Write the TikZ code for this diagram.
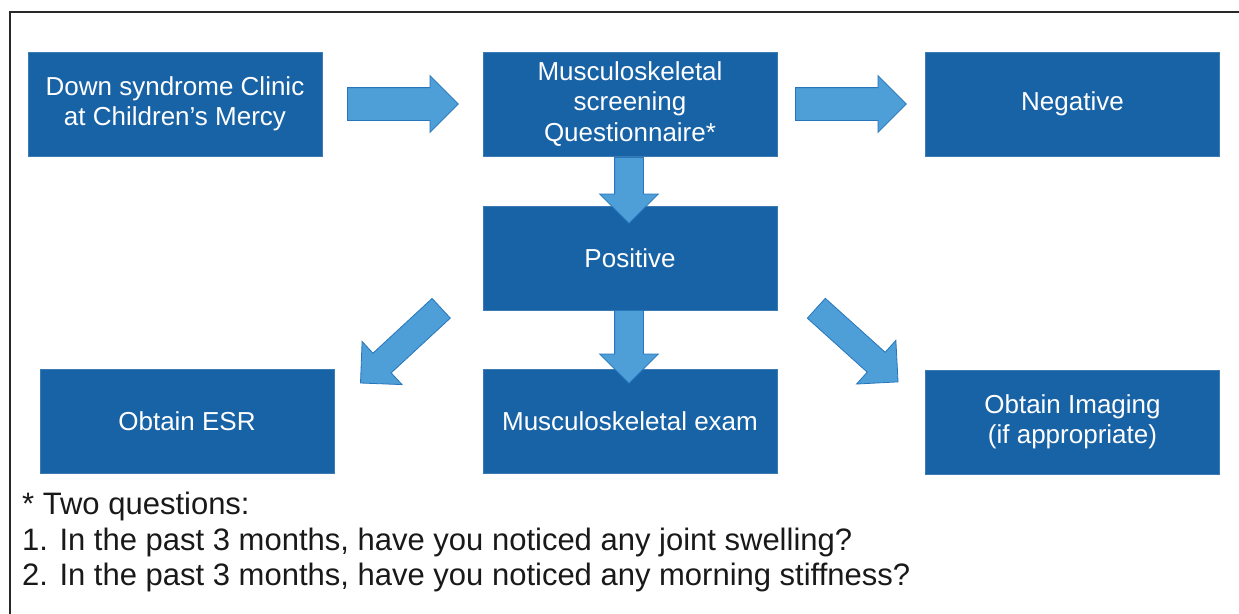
\documentclass[tikz,border=0pt]{standalone}
\usepackage{fontspec}
\setmainfont{Liberation Sans}
\usetikzlibrary{shapes.arrows}
\definecolor{boxblue}{RGB}{24,98,166}
\definecolor{arrowfill}{RGB}{78,158,216}
\definecolor{arrowline}{RGB}{38,118,188}
\definecolor{framegray}{RGB}{40,40,40}
\begin{document}
\begin{tikzpicture}[x=1pt,y=-1pt,
  box/.style={rectangle, fill=boxblue, draw=boxblue!85!white, line width=0.6pt,
    minimum width=294pt, minimum height=104pt, inner sep=0pt, text=white,
    align=center, font=\fontsize{26}{30.5}\selectfont},
  fatarrow/.style={single arrow, fill=arrowfill, draw=arrowline, line width=0.8pt,
    inner xsep=0pt, single arrow tip angle=90, anchor=tail},
  note/.style={anchor=base west, inner sep=0pt, text=black!90,
    font=\fontsize{31}{35}\selectfont}]
\useasboundingbox (0,0) rectangle (1239,613);
\draw[framegray, line width=1.4pt] (10,12) rectangle (1245,620);

\node[box] (clinic) at (175,104) {Down syndrome Clinic\\at Children’s Mercy};
\node[box] (quest) at (630,104) {Musculoskeletal\\screening\\Questionnaire*};
\node[box] (neg) at (1072.5,104) {Negative};
\node[box] (pos) at (630,258) {Positive};
\node[box] (esr) at (187,421) {Obtain ESR};
\node[box] (exam) at (630,421) {Musculoskeletal exam};
\node[box] (img) at (1072.5,422) {Obtain Imaging\\(if appropriate)};

\node[fatarrow, inner ysep=16pt, single arrow head extend=12pt, minimum height=111pt]
  (a1) at (347,104) {};
\node[fatarrow, inner ysep=16pt, single arrow head extend=12pt, minimum height=111pt]
  (a2) at (795,104) {};
\node[fatarrow, inner ysep=14pt, single arrow head extend=15pt, minimum height=66pt, rotate=-90]
  (a3) at (629,157) {};
\node[fatarrow, inner ysep=14pt, single arrow head extend=15pt, minimum height=73pt, rotate=-90]
  (a4) at (629,310) {};
\node[fatarrow, inner ysep=13pt, single arrow head extend=16pt, minimum height=110pt, rotate=-137.2]
  (a5) at (441.5,308) {};
\node[fatarrow, inner ysep=13pt, single arrow head extend=16pt, minimum height=110pt, rotate=-42]
  (a6) at (816,308) {};

\node[note] (n0) at (22,514) {* Two questions:};
\node[note] (n1) at (22,550) {1. In the past 3 months, have you noticed any joint swelling?};
\node[note] (n2) at (22,585) {2. In the past 3 months, have you noticed any morning stiffness?};
\end{tikzpicture}
\end{document}
